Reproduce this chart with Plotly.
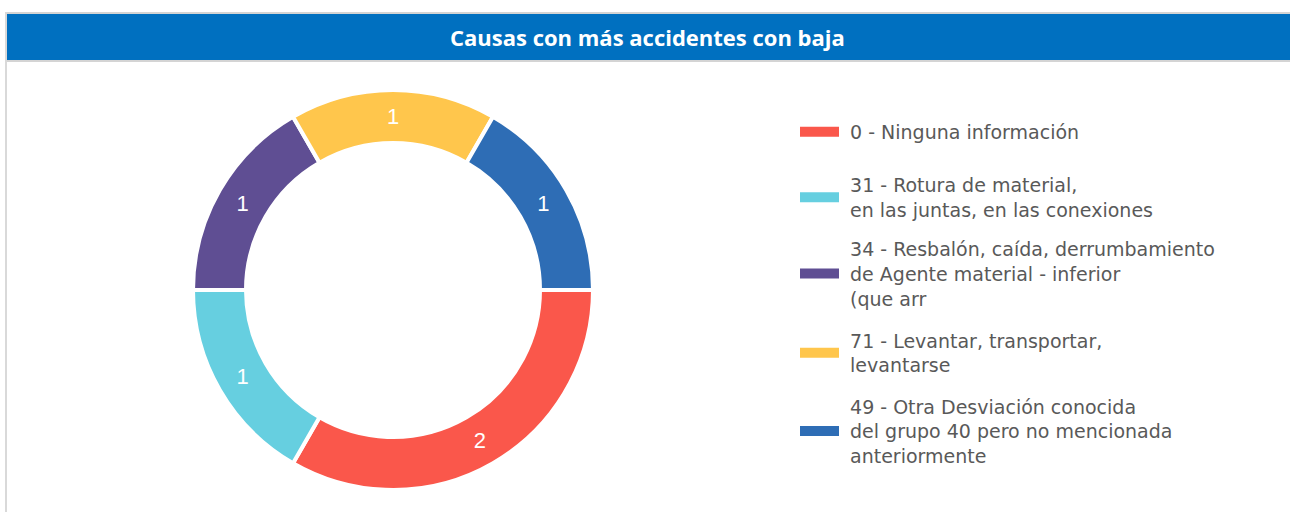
import plotly.graph_objects as go

title_text = "Causas con más accidentes con baja"
labels = [
    "0 - Ninguna información",
    "31 - Rotura de material,<br>en las juntas, en las conexiones",
    "34 - Resbalón, caída, derrumbamiento<br>de Agente material - inferior<br>(que arr",
    "71 - Levantar, transportar,<br>levantarse",
    "49 - Otra Desviación conocida<br>del grupo 40 pero no mencionada<br>anteriormente",
]
values = [2, 1, 1, 1, 1]
colors = ["#FA574B", "#66CFE0", "#5F4E93", "#FFC64C", "#2E6DB5"]

W, H = 1290, 512
legend_centers = [132, 197.5, 274, 353, 431.5]  # pixel rows of legend entries (layout)


def px(x):
    return x / W


def py(y):
    return (H - y) / H


fig = go.Figure()
fig.add_trace(go.Pie(
    labels=labels, values=values, sort=False, direction="clockwise", rotation=90,
    hole=0.735, marker=dict(colors=colors, line=dict(color="white", width=4)),
    textinfo="value", textposition="inside", insidetextorientation="horizontal",
    textfont=dict(color="white", size=22, family="Liberation Sans"),
    domain=dict(x=[px(193), px(593)], y=[py(490), py(90)]),
    showlegend=False, hoverinfo="label+value",
))

legend_layouts = {}
for i, (lab, col) in enumerate(zip(labels, colors)):
    lname = "legend" if i == 0 else f"legend{i + 1}"
    fig.add_trace(go.Scatter(
        x=[None], y=[None], mode="lines",
        name="\u00a0" + lab.replace("<br>", "<br>\u00a0"),
        line=dict(color=col, width=12), legend=lname,
    ))
    legend_layouts[lname] = dict(
        x=px(795), y=py(legend_centers[i]), xanchor="left", yanchor="middle",
        font=dict(color="#595959", size=19, family="DejaVu Sans"),
        itemwidth=39, valign="middle", bgcolor="rgba(0,0,0,0)",
    )

# header bar
fig.add_shape(type="rect", xref="paper", yref="paper", x0=px(6), x1=px(1291), y0=py(61), y1=py(13),
              fillcolor="#0070C0", line=dict(color="#D4D4D4", width=2), layer="below")
fig.add_shape(type="line", xref="paper", yref="paper", x0=px(6), x1=px(6), y0=0, y1=py(12),
              line=dict(color="#D9D9D9", width=2))
fig.add_annotation(text="<b>" + title_text + "</b>", xref="paper", yref="paper",
                   x=px(647), y=py(37), showarrow=False, xanchor="center", yanchor="middle",
                   font=dict(color="white", size=22, family="Open Sans"))

fig.update_layout(
    width=W, height=H, margin=dict(l=0, r=0, t=0, b=0),
    paper_bgcolor="white", plot_bgcolor="white",
    xaxis=dict(visible=False), yaxis=dict(visible=False),
    **legend_layouts,
)
fig.write_html("out.html", config={"displayModeBar": False},
               post_script="document.body.style.margin='0';")
